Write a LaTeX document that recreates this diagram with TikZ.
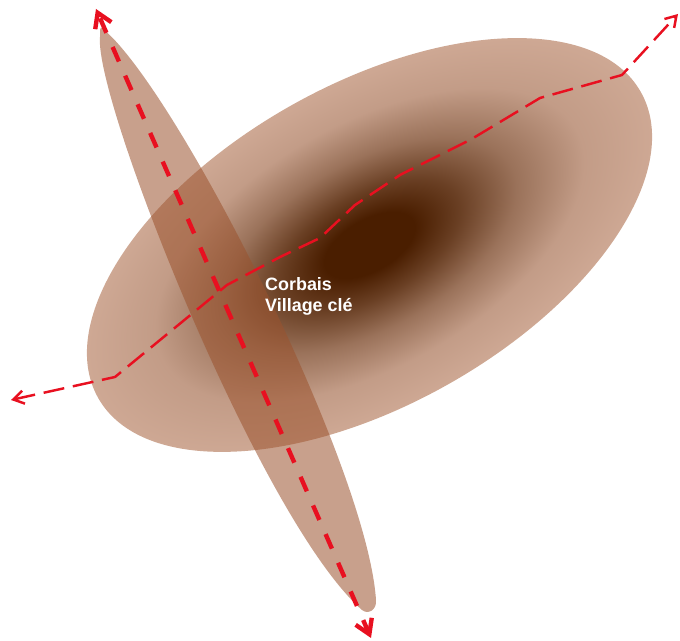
\documentclass[tikz,border=0pt]{standalone}
\usepackage{fontspec}
\setmainfont{Liberation Sans}
\usetikzlibrary{arrows.meta}
\definecolor{zoneedge}{RGB}{208,170,150}
\definecolor{zonecore}{RGB}{74,30,0}
\definecolor{corridor}{RGB}{155,82,45}
\definecolor{routered}{RGB}{232,16,32}
\pgfdeclareradialshading{zoneglow}{\pgfpoint{0bp}{0bp}}{%
  color(0bp)=(zonecore);
  color(4bp)=(zonecore);
  color(8bp)=(zonecore!76!zoneedge);
  color(13bp)=(zonecore!40!zoneedge);
  color(19bp)=(zonecore!10!zoneedge);
  color(26bp)=(zoneedge);
  color(50bp)=(zoneedge)}
\tikzset{
  route/.style={routered, line width=1.4pt, dash pattern=on 12pt off 5pt, {Straight Barb[length=6pt,width=7.5pt]}-{Straight Barb[length=6pt,width=7.5pt]}},
  thickroute/.style={routered, line width=2.5pt, dash pattern=on 9pt off 8.8pt, dash phase=15.6pt, {Straight Barb[length=8pt,width=10pt]}-{Straight Barb[length=8pt,width=10pt]}},
}

\begin{document}
\begin{tikzpicture}[x=0.02cm, y=0.02cm]
        \useasboundingbox (0,0) rectangle (680,641);

        % big zone
        \begin{scope}[transform canvas={shift={(369.5,396)}, rotate=29.4}]
            \shade[shading=zoneglow] (0,0) ellipse [x radius=311.5, y radius=160];
        \end{scope}

        % corridor
        \fill[corridor, opacity=0.55] (102,613) .. controls (176,553) and (367,176) .. (376,41)
            .. controls (377,31) and (368,26) .. (362,31)
            .. controls (260,121) and (94,541) .. (100,604)
            .. controls (100,611) and (100,614) .. (102,613) -- cycle;

        % thin route
        \coordinate (w1) at (11,241);
        \coordinate (w2) at (115,264);
        \coordinate (w3) at (227,356);
        \coordinate (w4) at (280,384);
        \coordinate (w5) at (320,403);
        \coordinate (w6) at (355,436);
        \coordinate (w7) at (400,466);
        \coordinate (w8) at (470,501);
        \coordinate (w9) at (540,543);
        \coordinate (w10) at (622,566);
        \coordinate (w11) at (678,627);
        \draw[route] (w1) -- (w2) -- (w3) -- (w4) -- (w5) -- (w6) -- (w7) -- (w8) -- (w9) -- (w10) -- (w11);

        % thick route
        \coordinate (n1) at (96,632);
        \coordinate (s1) at (371,3);
        \draw[thickroute] (n1) -- (s1);

        \node[text=white, font=\bfseries\fontsize{10.2}{12.2}\selectfont, align=left, anchor=west] (village) at (259,344.5) {Corbais\\Village clé};

    \end{tikzpicture}
\end{document}
